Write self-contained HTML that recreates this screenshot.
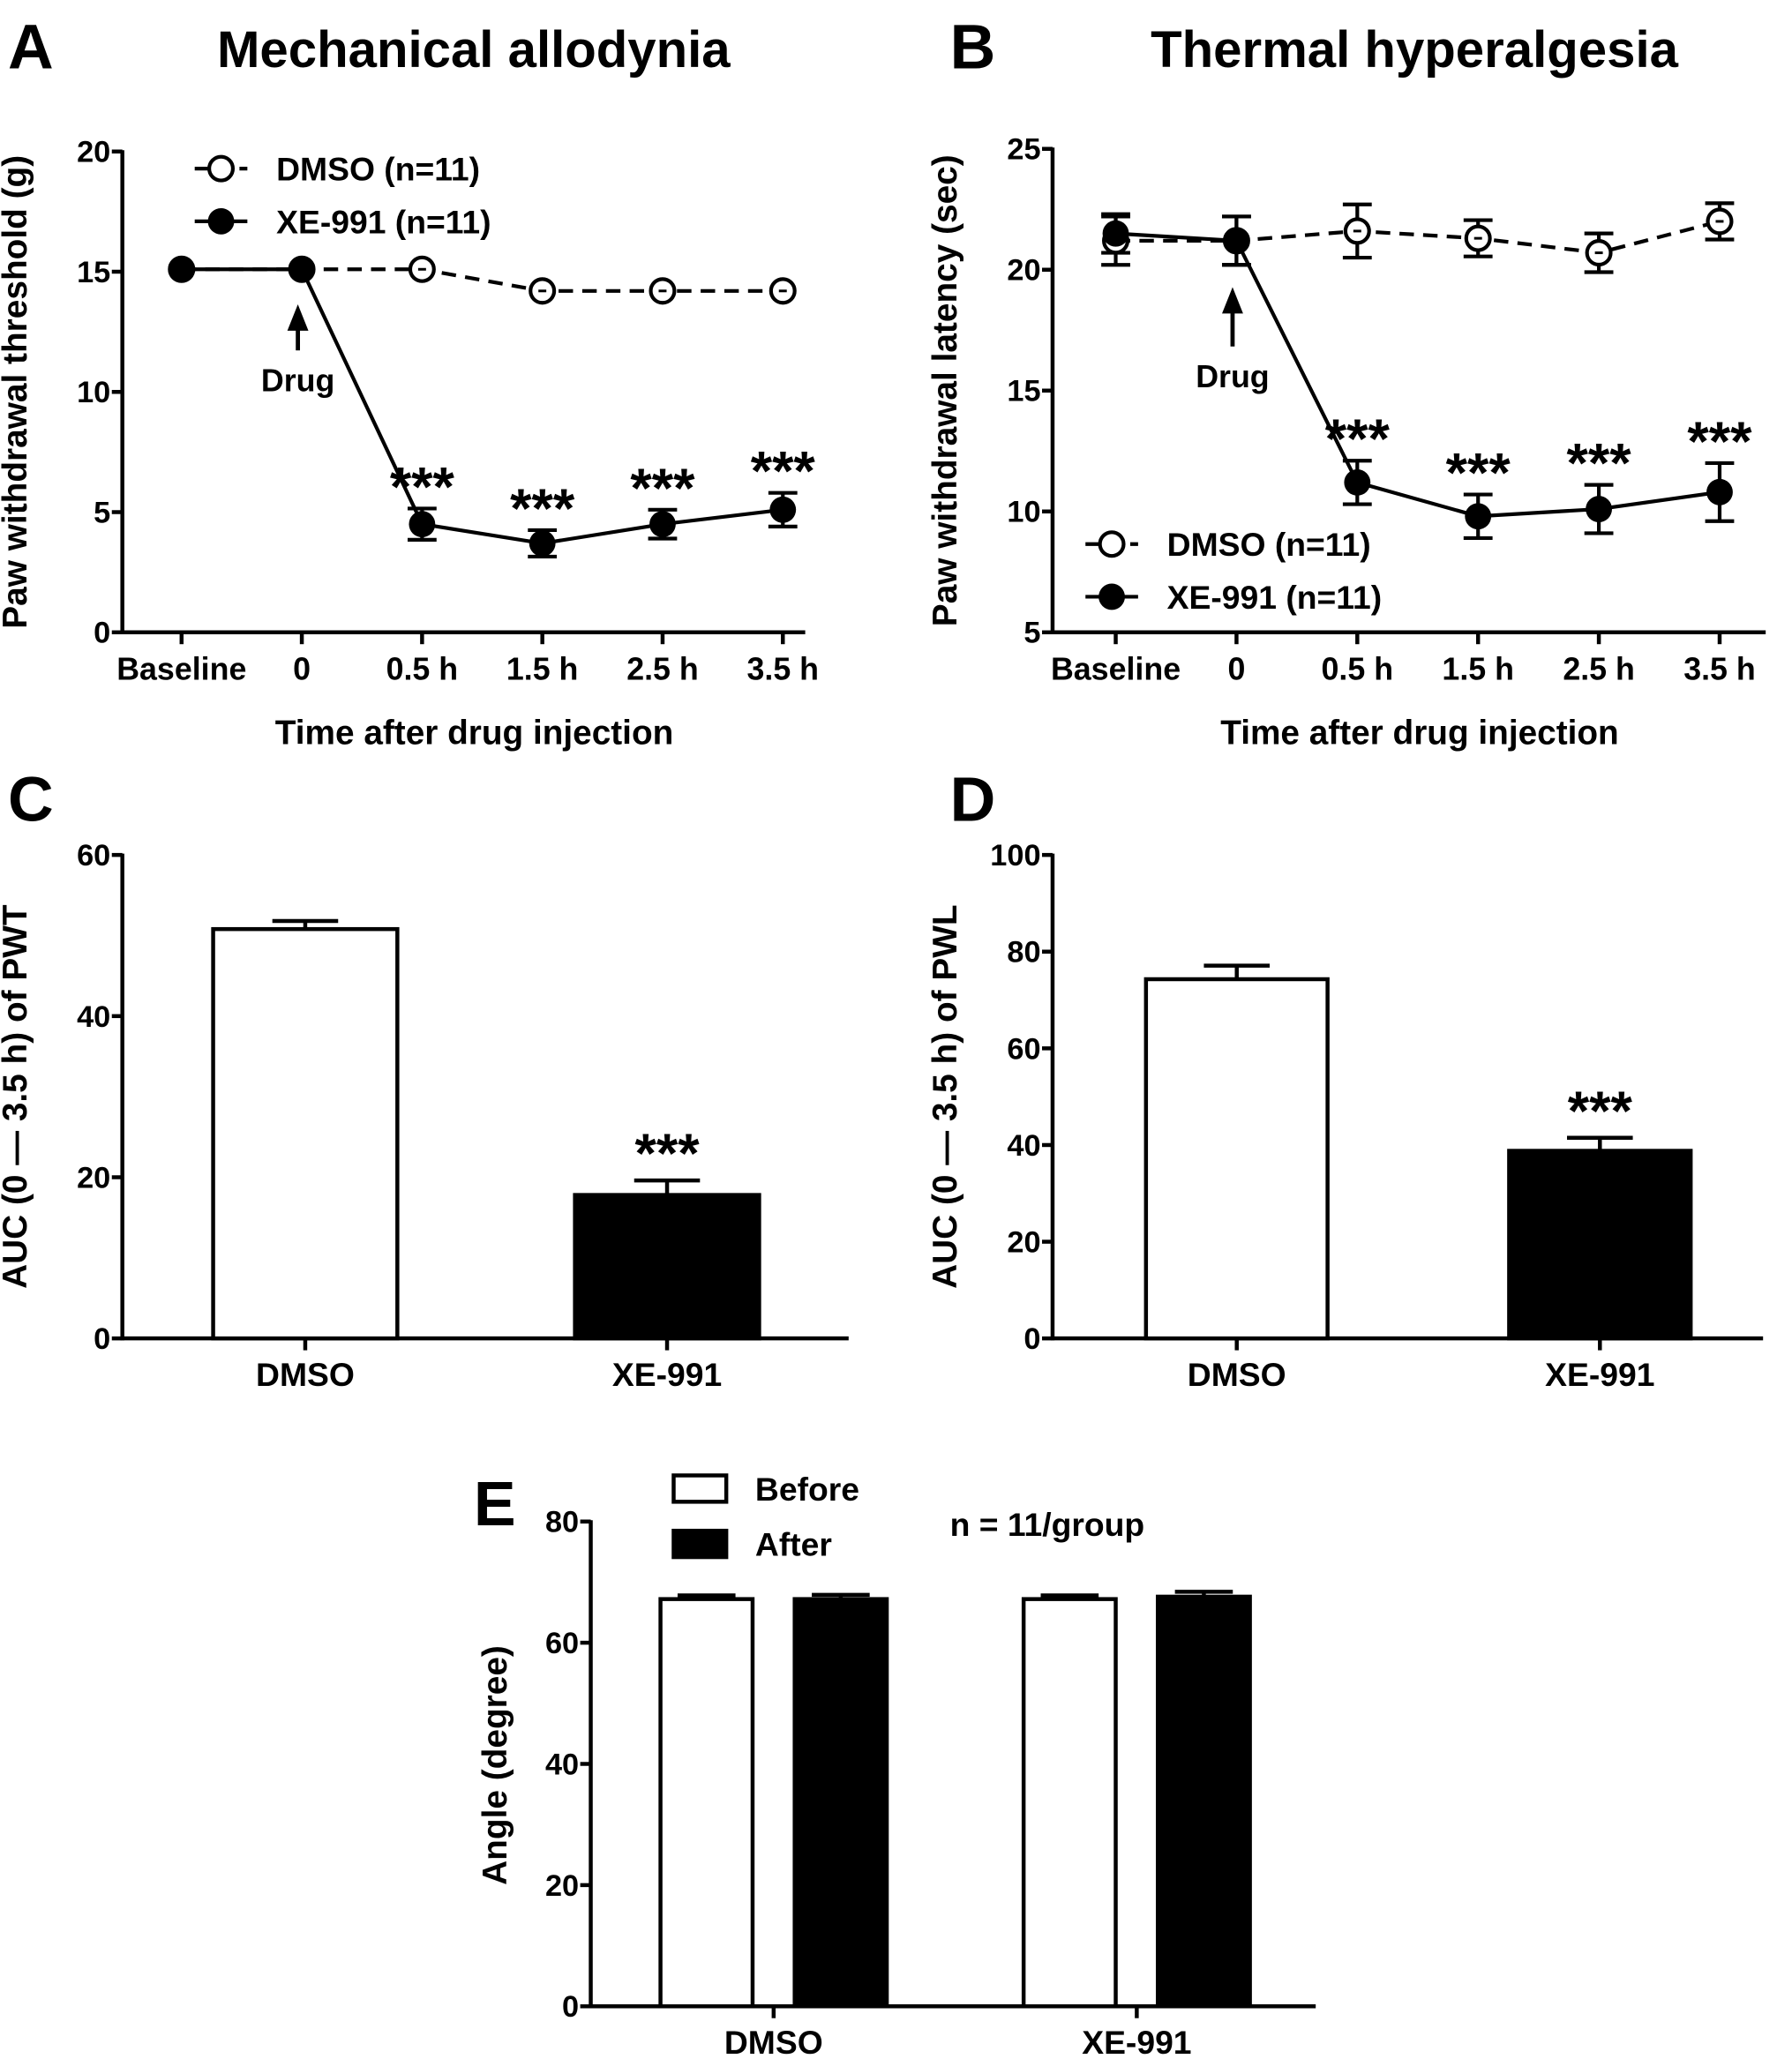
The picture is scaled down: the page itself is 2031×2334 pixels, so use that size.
<!DOCTYPE html>
<html><head><meta charset="utf-8"><style>
html,body{margin:0;padding:0;background:#fff;}
svg{display:block;}
text{font-family:"Liberation Sans",sans-serif;font-weight:bold;fill:#000;}
</style></head><body>
<svg id="fig" width="2031" height="2334" viewBox="0 0 1362 1563" preserveAspectRatio="none" xmlns="http://www.w3.org/2000/svg"></svg>
<script>
// ---- Panel A data ----
const timeCats = ["Baseline","0","0.5 h","1.5 h","2.5 h","3.5 h"];
const aTicks = [0,5,10,15,20];
const aDmso = [15.1,15.1,15.1,14.2,14.2,14.2];
const aDmsoErr = [0,0,0,0,0,0];
const aXe = [15.1,15.1,4.5,3.7,4.5,5.1];
const aXeErr = [0,0,0.65,0.55,0.6,0.7];
// ---- Panel B data ----
const bTicks = [5,10,15,20,25];
const bDmso = [21.2,21.2,21.6,21.3,20.7,22.0];
const bDmsoErr = [1.0,1.0,1.1,0.75,0.8,0.75];
const bXe = [21.5,21.2,11.2,9.8,10.1,10.8];
const bXeErr = [0.8,1.0,0.9,0.9,1.0,1.2];
// ---- Panel C data ----
const groupCats = ["DMSO","XE-991"];
const cTicks = [0,20,40,60];
const cVals = [50.8,17.8];
const cErr = [1.0,1.8];
// ---- Panel D data ----
const dTicks = [0,20,40,60,80,100];
const dVals = [74.3,38.8];
const dErr = [2.8,2.7];
// ---- Panel E data ----
const eTicks = [0,20,40,60,80];
const eBefore = [67.2,67.2];
const eBeforeErr = [0.6,0.6];
const eAfter = [67.2,67.6];
const eAfterErr = [0.7,0.8];

const NS="http://www.w3.org/2000/svg";
const svg=document.getElementById('fig');
function mk(tag,attrs,parent){const e=document.createElementNS(NS,tag);for(const k in attrs)e.setAttribute(k,attrs[k]);(parent||svg).appendChild(e);return e;}
function txt(s,x,y,size,anchor,parent,extra){const t=mk('text',Object.assign({x:x,y:y,'font-size':size,'text-anchor':anchor||'middle'},extra||{}),parent);t.textContent=s;return t;}
function scale(d0,d1,r0,r1){return v=>r0+(v-d0)*(r1-r0)/(d1-d0);}
function line(x1,y1,x2,y2,w,parent,dash){const a={x1:x1,y1:y1,x2:x2,y2:y2,stroke:'#000','stroke-width':w||3};if(dash)a['stroke-dasharray']=dash;return mk('line',a,parent);}

function yAxis(g,ticks,y,x,top,bottom,size){
  line(x,top-1,x,bottom+1.5,3,g);
  ticks.forEach(t=>{const yy=y(t);line(x-8,yy,x,yy,3,g);
    const l=txt(String(t),x-9,yy+8,size,'end',g);
    
    });
}

function linePanel(o){
  const g=mk('g',{});
  
  
  const y=scale(o.ticks[0],o.ticks[o.ticks.length-1],o.bottom,o.top);
  const x=i=>o.x0+i*o.dx;
  yAxis(g,o.ticks,y,o.axisX,o.top,o.bottom,23);
  line(o.axisX,o.bottom,o.axisEnd,o.bottom,3,g);
  timeCats.forEach((c,i)=>{line(x(i),o.bottom,x(i),o.bottom+9,3,g);
    const l=txt(c,x(i),o.bottom+36,24,'middle',g);
    
    });
  let p='';o.dmso.forEach((v,i)=>{p+=(i?'L':'M')+x(i)+','+y(v);});
  const dl=mk('path',{d:p,fill:'none',stroke:'#000','stroke-width':2.8,'stroke-dasharray':'11,7'},g);
  
  
  o.dmso.forEach((v,i)=>{const e=o.dmsoErr[i];if(e>0){line(x(i),y(v+e),x(i),y(v-e),2.8,g);line(x(i)-11,y(v+e),x(i)+11,y(v+e),2.8,g);line(x(i)-11,y(v-e),x(i)+11,y(v-e),2.8,g);}});
  p='';o.xe.forEach((v,i)=>{p+=(i?'L':'M')+x(i)+','+y(v);});
  const xl=mk('path',{d:p,fill:'none',stroke:'#000','stroke-width':2.8},g);
  
  
  o.xe.forEach((v,i)=>{const e=o.xeErr[i];if(e>0){line(x(i),y(v+e),x(i),y(v-e),2.8,g);line(x(i)-11,y(v+e),x(i)+11,y(v+e),2.8,g);line(x(i)-11,y(v-e),x(i)+11,y(v-e),2.8,g);}});
  o.dmso.forEach((v,i)=>{const c=mk('circle',{cx:x(i),cy:y(v),r:9,fill:'#fff',stroke:'#000','stroke-width':2.8},g);
    
    line(x(i)-3,y(v),x(i)+3,y(v),2,g);});
  o.xe.forEach((v,i)=>{const c=mk('circle',{cx:x(i),cy:y(v),r:10,fill:'#000'},g);
    });
  o.xe.forEach((v,i)=>{if(i>=2){const s=txt('***',x(i),y(v+o.xeErr[i])-2,42,'middle',g);
    }});
  const ax=x(1)-3;
  line(ax,o.arrowBottom,ax,o.arrowTop+14,3.2,g);
  mk('polygon',{points:`${ax-8},${o.arrowTop+20} ${ax+8},${o.arrowTop+20} ${ax},${o.arrowTop}`,fill:'#000'},g);
  const dr=txt('Drug',ax,o.arrowBottom+31,24,'middle',g);
  
  const lg=mk('g',{},g);
  
  const lx=o.legX,ly=o.legY;
  line(lx,ly,lx+40,ly,2.8,lg,'11,6');
  mk('circle',{cx:lx+20,cy:ly,r:9,fill:'#fff',stroke:'#000','stroke-width':2.8},lg);
  txt('DMSO (n=11)',lx+62,ly+9,25,'start',lg);
  line(lx,ly+40,lx+40,ly+40,2.8,lg);
  mk('circle',{cx:lx+20,cy:ly+40,r:10,fill:'#000'},lg);
  txt('XE-991 (n=11)',lx+62,ly+49,25,'start',lg);
  txt(o.letter,o.letterX,52,48,'start',g);
  txt(o.title,o.titleX,51,39,'middle',g);
  const yt=txt(o.ytitle,0,0,26,'middle',g,{transform:`translate(${o.axisX-73},${(o.top+o.bottom)/2}) rotate(-90)`});
  
  const xt=txt('Time after drug injection',(o.axisX+o.axisEnd)/2+8,565,26,'middle',g);
  
}
linePanel({name:'panel-a',ticks:aTicks,top:115,bottom:480,axisX:93,axisEnd:612,x0:138,dx:91.4,
  dmso:aDmso,dmsoErr:aDmsoErr,xe:aXe,xeErr:aXeErr,arrowTop:231,arrowBottom:266,legX:148,legY:128,
  letter:'A',letterX:6,title:'Mechanical allodynia',titleX:360,ytitle:'Paw withdrawal threshold (g)'});
linePanel({name:'panel-b',ticks:bTicks,top:113,bottom:480,axisX:800,axisEnd:1342,x0:848,dx:91.8,
  dmso:bDmso,dmsoErr:bDmsoErr,xe:bXe,xeErr:bXeErr,arrowTop:218,arrowBottom:263,legX:825,legY:413,
  letter:'B',letterX:722,title:'Thermal hyperalgesia',titleX:1075,ytitle:'Paw withdrawal latency (sec)'});

function barPanel(o){
  const g=mk('g',{});
  
  
  const y=scale(o.ticks[0],o.ticks[o.ticks.length-1],o.bottom,o.top);
  yAxis(g,o.ticks,y,o.axisX,o.top,o.bottom,23);
  line(o.axisX,o.bottom,o.axisEnd,o.bottom,3,g);
  groupCats.forEach((c,i)=>{
    const cx=o.cx[i],v=o.vals[i],e=o.err[i];
    line(cx,y(v),cx,y(v+e),3,g);line(cx-25,y(v+e),cx+25,y(v+e),3,g);
    const r=mk('rect',{x:cx-o.bw/2,y:y(v),width:o.bw,height:o.bottom-y(v),fill:i?'#000':'#fff',stroke:'#000','stroke-width':3},g);
    
    
    line(cx,o.bottom,cx,o.bottom+9,3,g);
    const l=txt(c,cx,o.bottom+36,25,'middle',g);
    
    if(i===1){const s=txt('***',cx,y(v+e)-6,42,'middle',g);
      }
  });
  txt(o.letter,o.letterX,623,48,'start',g);
  const yt=txt(o.ytitle,0,0,26,'middle',g,{transform:`translate(${o.axisX-73},${(o.top+o.bottom)/2}) rotate(-90)`});
  
}
barPanel({name:'panel-c',ticks:cTicks,vals:cVals,err:cErr,top:649,bottom:1016,axisX:93,axisEnd:645,cx:[232,507],bw:140,
  letter:'C',letterX:6,ytitle:'AUC (0  —  3.5 h) of PWT'});
barPanel({name:'panel-d',ticks:dTicks,vals:dVals,err:dErr,top:649,bottom:1016,axisX:800,axisEnd:1340,cx:[940,1216],bw:138,
  letter:'D',letterX:722,ytitle:'AUC (0  —  3.5 h) of PWL'});

(function(){
  const g=mk('g',{});
  
  
  const top=1155,bottom=1523,ax=449,aend=1000;
  const y=scale(0,80,bottom,top);
  yAxis(g,eTicks,y,ax,top,bottom,23);
  line(ax,bottom,aend,bottom,3,g);
  const centers=[588,864],bw=70,off=51;
  groupCats.forEach((c,i)=>{
    [[eBefore,eBeforeErr,-off,'#fff','before'],[eAfter,eAfterErr,off,'#000','after']].forEach(s=>{
      const v=s[0][i],e=s[1][i],cx=centers[i]+s[2];
      line(cx,y(v),cx,y(v+e),3,g);line(cx-22,y(v+e),cx+22,y(v+e),3,g);
      const r=mk('rect',{x:cx-bw/2,y:y(v),width:bw,height:bottom-y(v),fill:s[3],stroke:'#000','stroke-width':3},g);
      
      
    });
    line(centers[i],bottom,centers[i],bottom+9,3,g);
    const l=txt(c,centers[i],bottom+36,25,'middle',g);
    
  });
  const lg=mk('g',{},g);
  
  mk('rect',{x:512,y:1120,width:40,height:20,fill:'#fff',stroke:'#000','stroke-width':3},lg);
  txt('Before',574,1139,25,'start',lg);
  mk('rect',{x:512,y:1162,width:40,height:20,fill:'#000',stroke:'#000','stroke-width':3},lg);
  txt('After',574,1181,25,'start',lg);
  const n=txt('n = 11/group',722,1166,25,'start',g);
  
  txt('E',360,1158,48,'start',g);
  const yt=txt('Angle (degree)',0,0,26,'middle',g,{transform:`translate(${ax-64},${1340}) rotate(-90)`});
  
})();
</script>
</body></html>
